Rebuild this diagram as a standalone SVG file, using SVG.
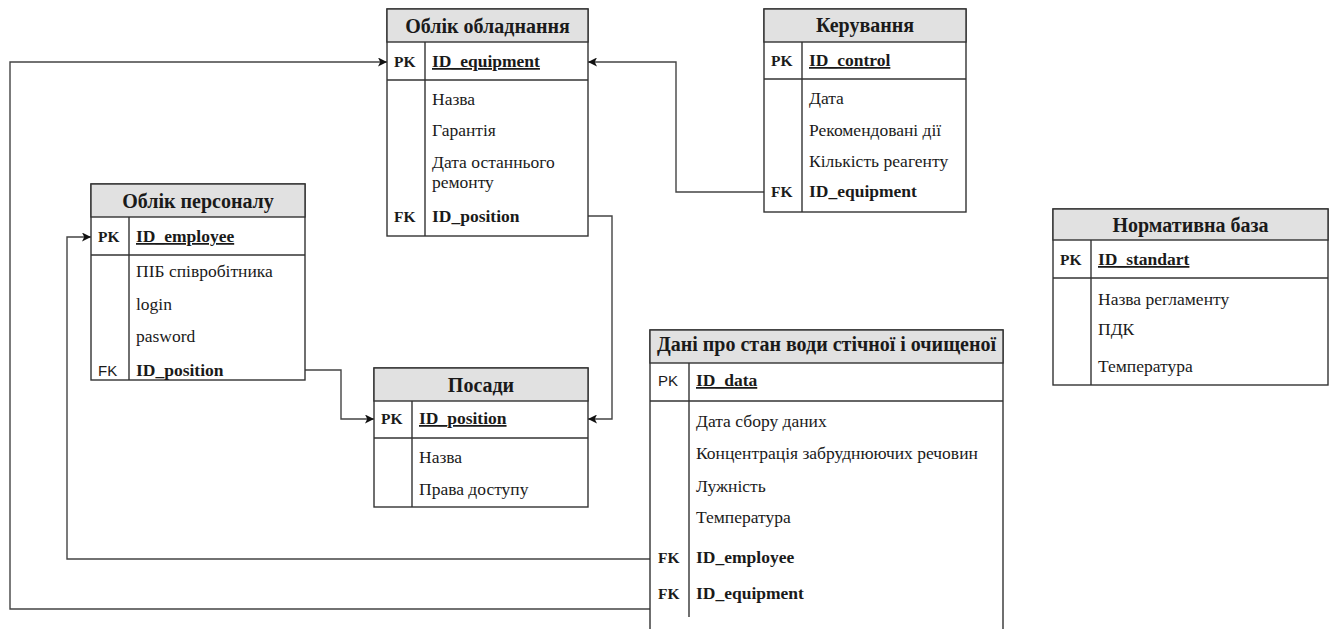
<svg xmlns="http://www.w3.org/2000/svg" width="1332" height="629" viewBox="0 0 1332 629">
  <style>
    text { font-family: "Liberation Serif", "Times New Roman", serif; fill: #1a1a1a; }
    .box { fill: #ffffff; stroke: #333333; stroke-width: 1.4; }
    .head { fill: #e1e1e1; stroke: #333333; stroke-width: 1.4; }
    .sep { stroke: #333333; stroke-width: 1.4; fill: none; }
    .title { font-size: 20px; font-weight: bold; text-anchor: middle; }
    .key { font-size: 15.5px; font-weight: bold; }
    .keys { font-size: 15px; font-family: "Liberation Sans", Arial, sans-serif; }
    .fld { font-size: 17.5px; }
    .id { font-size: 17.5px; font-weight: bold; }
    .pk { font-size: 17.5px; font-weight: bold; text-decoration: underline; }
    .conn { fill: none; stroke: #444444; stroke-width: 1.4; }
  </style>
  <defs>
    <marker id="arrow" viewBox="0 0 10 10" refX="10" refY="5" markerWidth="9" markerHeight="9" markerUnits="userSpaceOnUse" orient="auto">
      <path d="M0,0 L10,5 L0,10 L2.5,5 Z" fill="#111111"/>
    </marker>
  </defs>

  <rect width="1332" height="629" fill="#ffffff"/>

  <!-- relationship lines -->
  <g id="connectors">
    <path class="conn" d="M764,192 H676 V62 H588" marker-end="url(#arrow)"/>
    <path class="conn" d="M588,216 H612 V419 H588" marker-end="url(#arrow)"/>
    <path class="conn" d="M305,370 H341 V419 H374" marker-end="url(#arrow)"/>
    <path class="conn" d="M650,559 H67 V237 H91" marker-end="url(#arrow)"/>
    <path class="conn" d="M650,609 H10 V62 H387" marker-end="url(#arrow)"/>
  </g>

  <!-- equipment register -->
  <g id="equipment">
    <rect class="box" x="387" y="9" width="201" height="227"/>
    <rect class="head" x="387" y="9" width="201" height="33"/>
    <line class="sep" x1="387" y1="80" x2="588" y2="80"/>
    <line class="sep" x1="425" y1="42" x2="425" y2="236"/>
    <text class="title" x="487.5" y="33">Облік обладнання</text>
    <text class="key" x="394" y="67">PK</text>
    <text class="pk" x="432" y="67">ID_equipment</text>
    <text class="fld" x="432" y="105">Назва</text>
    <text class="fld" x="432" y="136">Гарантія</text>
    <text class="fld" x="432" y="168">Дата останнього</text>
    <text class="fld" x="432" y="188">ремонту</text>
    <text class="key" x="394" y="222">FK</text>
    <text class="id" x="432" y="222">ID_position</text>
  </g>

  <!-- control -->
  <g id="control">
    <rect class="box" x="764" y="9" width="202" height="203"/>
    <rect class="head" x="764" y="9" width="202" height="33"/>
    <line class="sep" x1="764" y1="79" x2="966" y2="79"/>
    <line class="sep" x1="802" y1="42" x2="802" y2="212"/>
    <text class="title" x="865" y="32">Керування</text>
    <text class="key" x="771" y="66">PK</text>
    <text class="pk" x="809" y="66">ID_control</text>
    <text class="fld" x="809" y="104">Дата</text>
    <text class="fld" x="809" y="136">Рекомендовані дії</text>
    <text class="fld" x="809" y="167">Кількість реагенту</text>
    <text class="key" x="771" y="197">FK</text>
    <text class="id" x="809" y="197">ID_equipment</text>
  </g>

  <!-- staff register -->
  <g id="staff">
    <rect class="box" x="91" y="184" width="214" height="196"/>
    <rect class="head" x="91" y="184" width="214" height="33"/>
    <line class="sep" x1="91" y1="255" x2="305" y2="255"/>
    <line class="sep" x1="129" y1="217" x2="129" y2="380"/>
    <text class="title" x="198" y="208">Облік персоналу</text>
    <text class="key" x="98" y="242">PK</text>
    <text class="pk" x="136" y="242">ID_employee</text>
    <text class="fld" x="136" y="277">ПІБ співробітника</text>
    <text class="fld" x="136" y="310">login</text>
    <text class="fld" x="136" y="342">pasword</text>
    <text class="keys" x="98" y="376">FK</text>
    <text class="id" x="136" y="376">ID_position</text>
  </g>

  <!-- positions -->
  <g id="positions">
    <rect class="box" x="374" y="368" width="214" height="139"/>
    <rect class="head" x="374" y="368" width="214" height="33"/>
    <line class="sep" x1="374" y1="438" x2="588" y2="438"/>
    <line class="sep" x1="412" y1="401" x2="412" y2="507"/>
    <text class="title" x="481" y="392">Посади</text>
    <text class="key" x="381" y="424">PK</text>
    <text class="pk" x="419" y="424">ID_position</text>
    <text class="fld" x="419" y="463">Назва</text>
    <text class="fld" x="419" y="495">Права доступу</text>
  </g>

  <!-- water state data -->
  <g id="water-data">
    <rect class="box" x="650" y="330" width="353" height="310"/>
    <rect class="head" x="650" y="330" width="353" height="33"/>
    <line class="sep" x1="650" y1="401" x2="1003" y2="401"/>
    <line class="sep" x1="689" y1="363" x2="689" y2="617"/>
    <text class="title" x="826.5" y="351">Дані про стан води стічної і очищеної</text>
    <text class="keys" x="658" y="386">PK</text>
    <text class="pk" x="696" y="386">ID_data</text>
    <text class="fld" x="696" y="427">Дата сбору даних</text>
    <text class="fld" x="696" y="459">Концентрація забруднюючих речовин</text>
    <text class="fld" x="696" y="492">Лужність</text>
    <text class="fld" x="696" y="523">Температура</text>
    <text class="key" x="658" y="563">FK</text>
    <text class="id" x="696" y="563">ID_employee</text>
    <text class="key" x="658" y="599">FK</text>
    <text class="id" x="696" y="599">ID_equipment</text>
  </g>

  <!-- regulatory base -->
  <g id="standards">
    <rect class="box" x="1053" y="209" width="275" height="176"/>
    <rect class="head" x="1053" y="209" width="275" height="31"/>
    <line class="sep" x1="1053" y1="278" x2="1328" y2="278"/>
    <line class="sep" x1="1091" y1="240" x2="1091" y2="385"/>
    <text class="title" x="1190.5" y="232">Нормативна база</text>
    <text class="key" x="1060" y="265">PK</text>
    <text class="pk" x="1098" y="265">ID_standart</text>
    <text class="fld" x="1098" y="305">Назва регламенту</text>
    <text class="fld" x="1098" y="335">ПДК</text>
    <text class="fld" x="1098" y="372">Температура</text>
  </g>
</svg>
